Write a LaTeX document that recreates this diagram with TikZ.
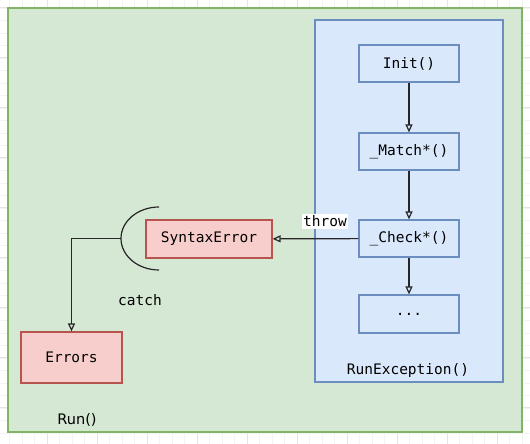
\documentclass[tikz,border=0pt]{standalone}
\usepackage{fontspec}
\setmonofont{DejaVu Sans Mono}
\newfontfamily\labelfont{DejaVu Sans}
\usetikzlibrary{arrows.meta}

\definecolor{grnfill}{HTML}{D5E8D4}
\definecolor{grnline}{HTML}{82B366}
\definecolor{bluefill}{HTML}{DAE8FC}
\definecolor{blueline}{HTML}{6C8EBF}
\definecolor{redfill}{HTML}{F8CECC}
\definecolor{redline}{HTML}{B85450}
\definecolor{gridminor}{HTML}{F3F3F3}
\definecolor{gridmajor}{HTML}{E4E4E4}

\begin{document}
\begin{tikzpicture}[x=1pt,y=-1pt,line width=1.2pt,
	every node/.style={font=\fontsize{14.5}{16}\ttfamily},
	fnbox/.style={draw=blueline,fill=bluefill,rectangle,minimum width=100pt,minimum height=37pt,inner sep=0pt},
	errbox/.style={draw=redline,fill=redfill,rectangle,inner sep=0pt},
	flow/.style={->,>={Triangle[open,length=8pt,width=7pt]},draw=black!85}]
			\useasboundingbox (0,0) rectangle (530,444);
			% grid behind the page
			\foreach \i in {0,...,43} \draw[gridminor,line width=0.6pt] (-3+12.5*\i,0) -- (-3+12.5*\i,444);
			\foreach \i in {0,...,36} \draw[gridminor,line width=0.6pt] (0,-4.5+12.5*\i) -- (530,-4.5+12.5*\i);
			\foreach \i in {0,...,10} \draw[gridmajor,line width=0.6pt] (-3+50*\i,0) -- (-3+50*\i,444);
			\foreach \i in {0,...,9} \draw[gridmajor,line width=0.6pt] (0,7.5+50*\i) -- (530,7.5+50*\i);
			% containers
			\draw[grnline,fill=grnfill] (8,8) rectangle (522,432);
			\draw[blueline,fill=bluefill] (315,20) rectangle (503,382);
			\node[font=\fontsize{14.5}{16}\labelfont] (RunLbl)at(77,420) {Run()};
			\node (RunExcLbl)at(408,370) {RunException()};
			% functions
			\node[fnbox] (Init)at(409,63.5) {Init()};
			\node[fnbox] (Match)at(409,151.5) {\_Match*()};
			\node[fnbox] (Check)at(409,238.5) {\_Check*()};
			\node[fnbox,minimum height=38pt] (Dots)at(409,314) {...};
			\node[errbox,minimum width=126pt,minimum height=38pt] (SyntaxError)at(209,239) {SyntaxError};
			\node[errbox,minimum width=101pt,minimum height=51pt] (Errors)at(71.5,357.5) {Errors};
			% catch
			\coordinate (CatchL) at (121,238.5);
			\draw[black!85] (159,207) arc[start angle=270,end angle=90,x radius=38,y radius=31.5];
			\node (CatchLbl)at(140,300) {catch};
			\draw[flow] (Init) -- (Match);
			\draw[flow] (Match) -- (Check);
			\draw[flow] (Check) -- (Dots);
			\draw[flow] (Check) -- (SyntaxError);
			\draw[flow] (CatchL) -| (Errors);
			\node[fill=white,inner sep=1.5pt] (ThrowLbl)at(325,221.5) {throw};
		\end{tikzpicture}
\end{document}
